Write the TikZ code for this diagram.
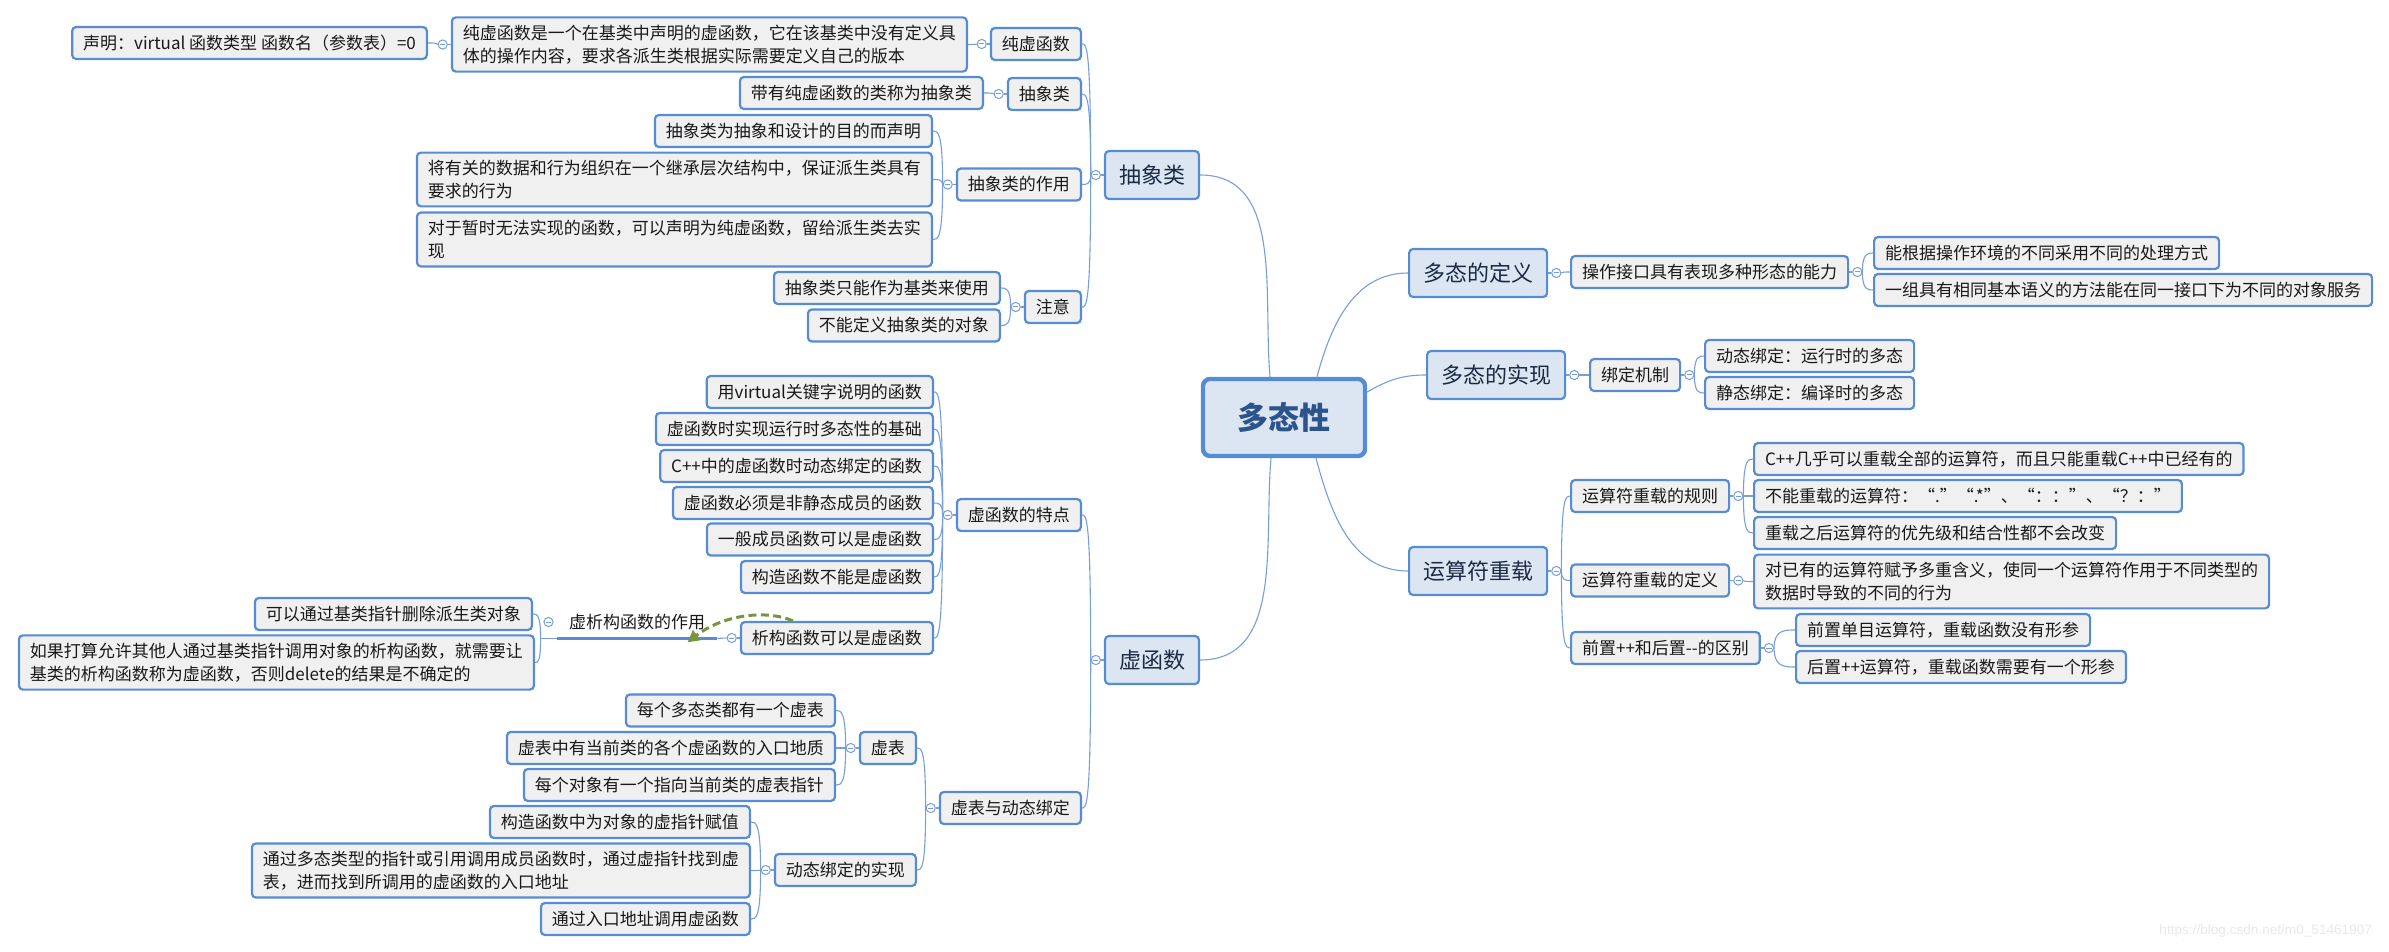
\documentclass[tikz,border=0pt]{standalone}
\usepackage{fontspec}
\setmainfont{Noto Sans CJK SC}
\newfontfamily\wmfont{Liberation Sans}
\usetikzlibrary{arrows.meta, positioning, calc}
\definecolor{mmblue}{RGB}{86,140,212}
\definecolor{linkblue}{RGB}{118,158,218}
\definecolor{leafgray}{RGB}{240,240,240}
\definecolor{topicblue}{RGB}{220,230,242}
\definecolor{topictext}{RGB}{28,42,68}
\definecolor{roottext}{RGB}{44,84,140}
\definecolor{relgreen}{RGB}{120,148,62}
\tikzset{
  mmnode/.style={rounded corners=2pt, draw=mmblue, line width=1.1pt, align=left},
  leafnode/.style={mmnode, fill=leafgray, text=black!90, minimum height=16pt, inner xsep=5.5pt, inner ysep=3.75pt, font=\fontsize{8.5pt}{11.5pt}\selectfont},
  topicnode/.style={mmnode, fill=topicblue, text=topictext, minimum height=24pt, inner xsep=7pt, font=\fontsize{11pt}{13pt}\selectfont},
  rootnode/.style={mmnode, rounded corners=3.5pt, line width=2.2pt, fill=topicblue, text=roottext, minimum width=81pt, minimum height=38.5pt, font=\fontsize{15.5pt}{18pt}\selectfont\bfseries},
  plainnode/.style={font=\fontsize{8.5pt}{11.5pt}\selectfont, text=black!90, minimum width=80pt, minimum height=16pt, inner sep=0pt},
  foldmark/.style={circle, draw=linkblue, fill=white, line width=0.5pt, minimum size=4.6pt, inner sep=0pt,
    path picture={\draw[linkblue, line width=0.5pt] ([xshift=-1.3pt]path picture bounding box.center) -- ([xshift=1.3pt]path picture bounding box.center);}},
  mmline/.style={linkblue, line width=0.55pt},
  ulline/.style={mmblue, line width=1.6pt},
  relarrow/.style={-{Triangle[length=6pt, width=6pt]}, relgreen, line width=1.5pt, dash pattern=on 4pt off 2.2pt},
}
\begin{document}
\begin{tikzpicture}[x=0.5pt, y=-0.5pt]
  \useasboundingbox (0,0) rectangle (2389,952);
  \node[rootnode] (root) at (1284,417.5) {多态性};
  \node[topicnode] (abs) at (1152,175) {抽象类};
  \node[topicnode] (vf) at (1152,660) {虚函数};
  \node[topicnode, anchor=west] (def) at (1408,273) {多态的定义};
  \node[topicnode, anchor=west] (impl) at (1426,375) {多态的实现};
  \node[topicnode, anchor=west] (ops) at (1408,571) {运算符重载};

  \node[leafnode, anchor=east] (pvf) at (1082,44) {纯虚函数};
  \node[leafnode, anchor=east] (pvfd) at (968,44.5) {纯虚函数是一个在基类中声明的虚函数，它在该基类中没有定义具\\体的操作内容，要求各派生类根据实际需要定义自己的版本};
  \node[leafnode, anchor=east] (decl) at (428,43) {声明：virtual 函数类型 函数名（参数表）=0};
  \node[leafnode, anchor=east] (absd) at (1082,94) {抽象类};
  \node[leafnode, anchor=east] (absd1) at (984,93) {带有纯虚函数的类称为抽象类};
  \node[leafnode, anchor=east] (role) at (1082,184.5) {抽象类的作用};
  \node[leafnode, anchor=east] (role1) at (933,131) {抽象类为抽象和设计的目的而声明};
  \node[leafnode, anchor=east] (role2) at (933,179.5) {将有关的数据和行为组织在一个继承层次结构中，保证派生类具有\\要求的行为};
  \node[leafnode, anchor=east] (role3) at (933,239.5) {对于暂时无法实现的函数，可以声明为纯虚函数，留给派生类去实\\现};
  \node[leafnode, anchor=east] (note) at (1082,307) {注意};
  \node[leafnode, anchor=east] (note1) at (1001,288) {抽象类只能作为基类来使用};
  \node[leafnode, anchor=east] (note2) at (1001,325.5) {不能定义抽象类的对象};

  \node[leafnode, anchor=east] (feat) at (1082,515) {虚函数的特点};
  \node[leafnode, anchor=east] (f1) at (934,392) {用virtual关键字说明的函数};
  \node[leafnode, anchor=east] (f2) at (934,429) {虚函数时实现运行时多态性的基础};
  \node[leafnode, anchor=east] (f3) at (934,466) {C++中的虚函数时动态绑定的函数};
  \node[leafnode, anchor=east] (f4) at (934,503) {虚函数必须是非静态成员的函数};
  \node[leafnode, anchor=east] (f5) at (934,539.5) {一般成员函数可以是虚函数};
  \node[leafnode, anchor=east] (f6) at (934,577) {构造函数不能是虚函数};
  \node[leafnode, anchor=east] (f7) at (934,638) {析构函数可以是虚函数};
  \node[plainnode] (vd) at (637,622) {虚析构函数的作用};
  \node[leafnode, anchor=east] (vd1) at (533,614) {可以通过基类指针删除派生类对象};
  \node[leafnode, anchor=east] (vd2) at (535,662.5) {如果打算允许其他人通过基类指针调用对象的析构函数，就需要让\\基类的析构函数称为虚函数，否则delete的结果是不确定的};
  \node[leafnode, anchor=east] (vt) at (1082,808) {虚表与动态绑定};
  \node[leafnode, anchor=east] (vtab) at (917,748) {虚表};
  \node[leafnode, anchor=east] (t1) at (836,710.5) {每个多态类都有一个虚表};
  \node[leafnode, anchor=east] (t2) at (836,748) {虚表中有当前类的各个虚函数的入口地质};
  \node[leafnode, anchor=east] (t3) at (836,785) {每个对象有一个指向当前类的虚表指针};
  \node[leafnode, anchor=east] (dyn) at (917,870) {动态绑定的实现};
  \node[leafnode, anchor=east] (d1) at (751,822) {构造函数中为对象的虚指针赋值};
  \node[leafnode, anchor=east] (d2) at (751,870.5) {通过多态类型的指针或引用调用成员函数时，通过虚指针找到虚\\表，进而找到所调用的虚函数的入口地址};
  \node[leafnode, anchor=east] (d3) at (751,919) {通过入口地址调用虚函数};

  \node[leafnode, anchor=west] (iface) at (1570,272) {操作接口具有表现多种形态的能力};
  \node[leafnode, anchor=west] (i1) at (1873,253) {能根据操作环境的不同采用不同的处理方式};
  \node[leafnode, anchor=west] (i2) at (1873,290) {一组具有相同基本语义的方法能在同一接口下为不同的对象服务};
  \node[leafnode, anchor=west] (bind) at (1589,375) {绑定机制};
  \node[leafnode, anchor=west] (b1) at (1704,356) {动态绑定：运行时的多态};
  \node[leafnode, anchor=west] (b2) at (1704,393) {静态绑定：编译时的多态};
  \node[leafnode, anchor=west] (rule) at (1570,496) {运算符重载的规则};
  \node[leafnode, anchor=west] (r1) at (1753,459) {C++几乎可以重载全部的运算符，而且只能重载C++中已经有的};
  \node[leafnode, anchor=west] (r2) at (1753,496) {不能重载的运算符：“.”“.*”、“：：”、“？：”};
  \node[leafnode, anchor=west] (r3) at (1753,533) {重载之后运算符的优先级和结合性都不会改变};
  \node[leafnode, anchor=west] (odef) at (1570,580.5) {运算符重载的定义};
  \node[leafnode, anchor=west] (od1) at (1753,581.5) {对已有的运算符赋予多重含义，使同一个运算符作用于不同类型的\\数据时导致的不同的行为};
  \node[leafnode, anchor=west] (inc) at (1570,648) {前置++和后置-{}-的区别};
  \node[leafnode, anchor=west] (p1) at (1795,630) {前置单目运算符，重载函数没有形参};
  \node[leafnode, anchor=west] (p2) at (1795,667) {后置++运算符，重载函数需要有一个形参};

  \foreach \a/\b in {abs/fa, vf/fv, pvf/fpv, pvfd/fpd, absd/fad, role/fro, note/fno, feat/ffe, f7/ff7, vt/fvt, vtab/ftb, dyn/fdy, vd/fvd}
    \node[foldmark, left=1.5pt of \a] (\b) {};
  \foreach \a/\b in {def/fdf, iface/fif, impl/fim, bind/fbi, ops/fop, rule/fru, odef/fod, inc/fin}
    \node[foldmark, right=1.5pt of \a] (\b) {};

  \foreach \a/\b in {abs/fa, vf/fv, pvf/fpv, pvfd/fpd, absd/fad, role/fro, note/fno, feat/ffe, f7/ff7, vt/fvt, vtab/ftb, dyn/fdy, def/fdf, iface/fif, impl/fim, bind/fbi, ops/fop, rule/fru, odef/fod, inc/fin}
    \draw[mmline] (\a) -- (\b);
  \foreach \p/\c in {fa/pvf, fa/absd, fa/role, fa/note, fpv/pvfd, fpd/decl, fad/absd1, fro/role1, fro/role2, fro/role3, fno/note1, fno/note2, fv/feat, fv/vt, ffe/f1, ffe/f2, ffe/f3, ffe/f4, ffe/f5, ffe/f6, ffe/f7, fvt/vtab, fvt/dyn, ftb/t1, ftb/t2, ftb/t3, fdy/d1, fdy/d2, fdy/d3}
    \draw[mmline] (\p.west) .. controls (\p.west |- \c.east) and ($(\p.west |- \c.east)!.5!(\c.east)$) .. (\c.east);
  \foreach \p/\c in {fdf/iface, fif/i1, fif/i2, fim/bind, fbi/b1, fbi/b2, fop/rule, fop/odef, fop/inc, fru/r1, fru/r2, fru/r3, fod/od1, fin/p1, fin/p2}
    \draw[mmline] (\p.east) .. controls (\p.east |- \c.west) and ($(\p.east |- \c.west)!.5!(\c.west)$) .. (\c.west);

  \coordinate (vj) at ($(vd.south west)+(-16,0)$);
  \draw[mmline] (vd.south west) -- (vj);
  \foreach \c in {vd1, vd2}
    \draw[mmline] (vj) .. controls (vj |- \c.east) and ($(vj |- \c.east)!.5!(\c.east)$) .. (\c.east);
  \draw[mmline] (ff7.west) -- (vd.south east);
  \draw[ulline] (vd.south west) -- (vd.south east);

  \draw[mmline] (abs.east) to[out=0, in=95] ([xshift=-7pt]root.north);
  \draw[mmline] (vf.east) to[out=0, in=-95] ([xshift=-6.5pt]root.south);
  \draw[mmline] (def.west) to[out=180, in=75] ([xshift=16.5pt]root.north);
  \draw[mmline] (impl.west) to[out=180, in=30] ([yshift=12.75pt]root.east);
  \draw[mmline] (ops.west) to[out=180, in=-75] ([xshift=16pt]root.south);

  \draw[relarrow] ([xshift=-22pt]f7.north) .. controls +(-28,-12) and +(35,-27) .. ([xshift=-15pt, yshift=-2pt]vd.south east);

  \node[font=\wmfont\fontsize{6.8pt}{8pt}\selectfont, text=black!9, anchor=south east] (wm) at (2379,944) {https://blog.csdn.net/m0\_51461907};
\end{tikzpicture}
\end{document}
